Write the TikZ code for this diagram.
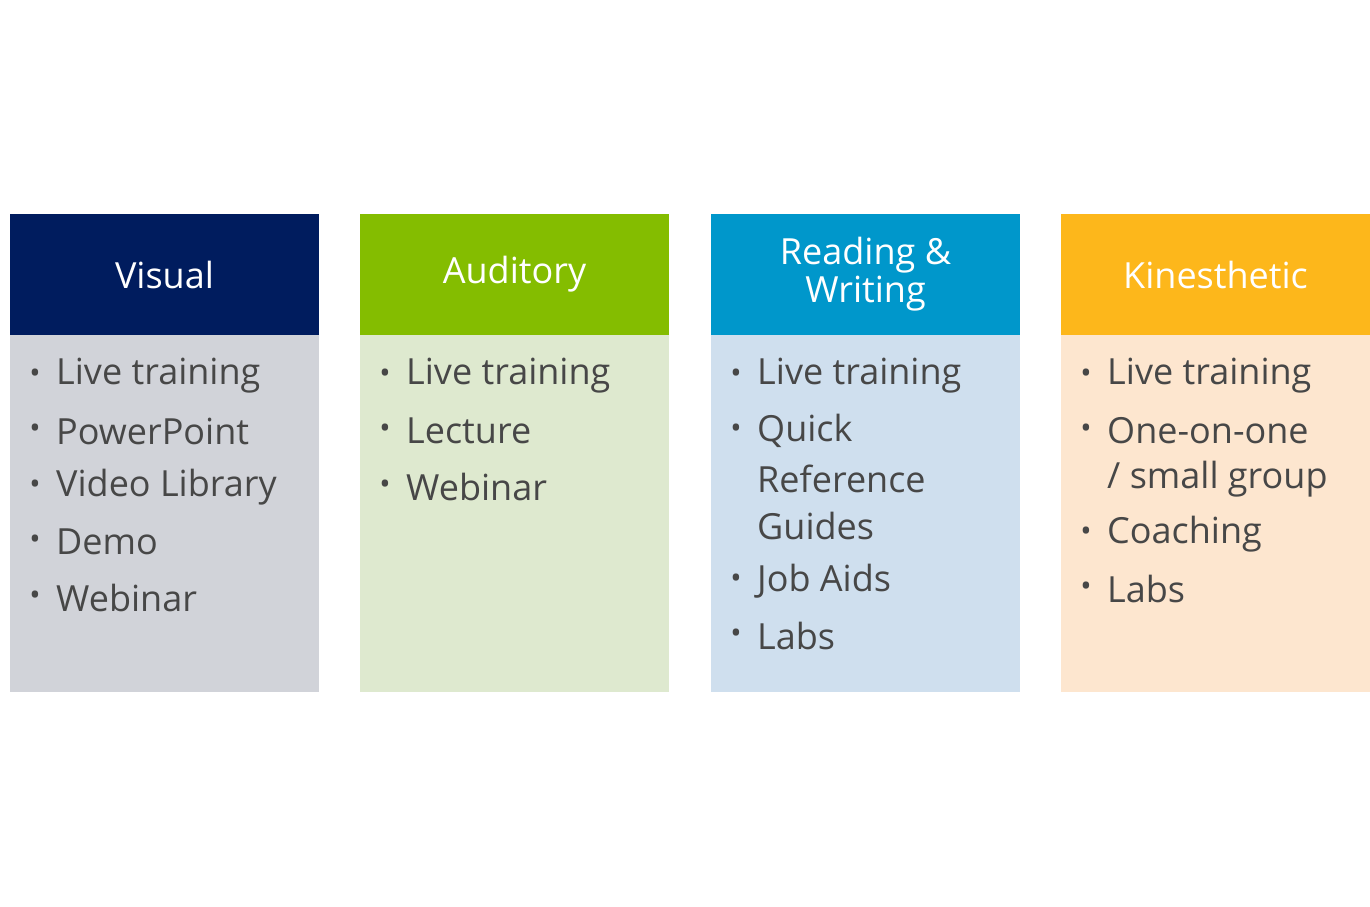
\documentclass[tikz,border=0pt]{standalone}
\usepackage{fontspec}
\setmainfont{Open Sans}
\definecolor{hA}{HTML}{001C5E}\definecolor{bA}{HTML}{D1D3D9}
\definecolor{hB}{HTML}{84BD00}\definecolor{bB}{HTML}{DEE9CF}
\definecolor{hC}{HTML}{0097CB}\definecolor{bC}{HTML}{CFDFEE}
\definecolor{hD}{HTML}{FDB71B}\definecolor{bD}{HTML}{FDE6CF}
\definecolor{txt}{HTML}{474747}
\begin{document}
\begin{tikzpicture}[x=1pt,y=-1pt,
  head/.style={text=white,font=\fontsize{36}{44}\selectfont,align=center},
  item/.style={anchor=west,text=txt,font=\fontsize{36}{44}\selectfont,inner sep=0pt},
  bul/.style={anchor=center,text=txt,font=\fontsize{30}{36}\selectfont,inner sep=0pt}]
\useasboundingbox (0,0) rectangle (1370,907);
\foreach \x/\c in {10/A,360/B,711/C,1061/D}{
  \fill[h\c] (\x,214) rectangle ++(309,121);
  \fill[b\c] (\x,335) rectangle ++(309,357);
}
\node[head] (h1) at (164.5,274.5) {Visual};
\node[head] (h2) at (514.5,274.5) {Auditory};
\node[head] (h3) at (865.5,274.5) {Reading \&\\[-6pt]Writing};
\node[head] (h4) at (1215.5,274.5) {Kinesthetic};
% column 1
\foreach \y/\t [count=\i] in {376/Live training,431/PowerPoint,487/Video Library,542/Demo,598/Webinar}{
  \node[bul] (a\i b) at (35,\y) {•};
  \node[item] (a\i) at (56,\y) {\t};}
\foreach \y/\t [count=\i] in {376/Live training,431/Lecture,487/Webinar}{
  \node[bul] (c\i b) at (385,\y) {•};
  \node[item] (c\i) at (406,\y) {\t};}
\foreach \y/\t [count=\i] in {376/Live training,431/Quick,581/Job Aids,636/Labs}{
  \node[bul] (r\i b) at (736,\y) {•};
  \node[item] (r\i) at (757,\y) {\t};}
\node[item] (r2a) at (757,479) {Reference};
\node[item] (r2b) at (757,526) {Guides};
\foreach \y/\t [count=\i] in {376/Live training,431/One-on-one,534/Coaching,589/Labs}{
  \node[bul] (k\i b) at (1086,\y) {•};
  \node[item] (k\i) at (1107,\y) {\t};}
\node[item] (k2a) at (1107,479) {/ small group};
\end{tikzpicture}
\end{document}
